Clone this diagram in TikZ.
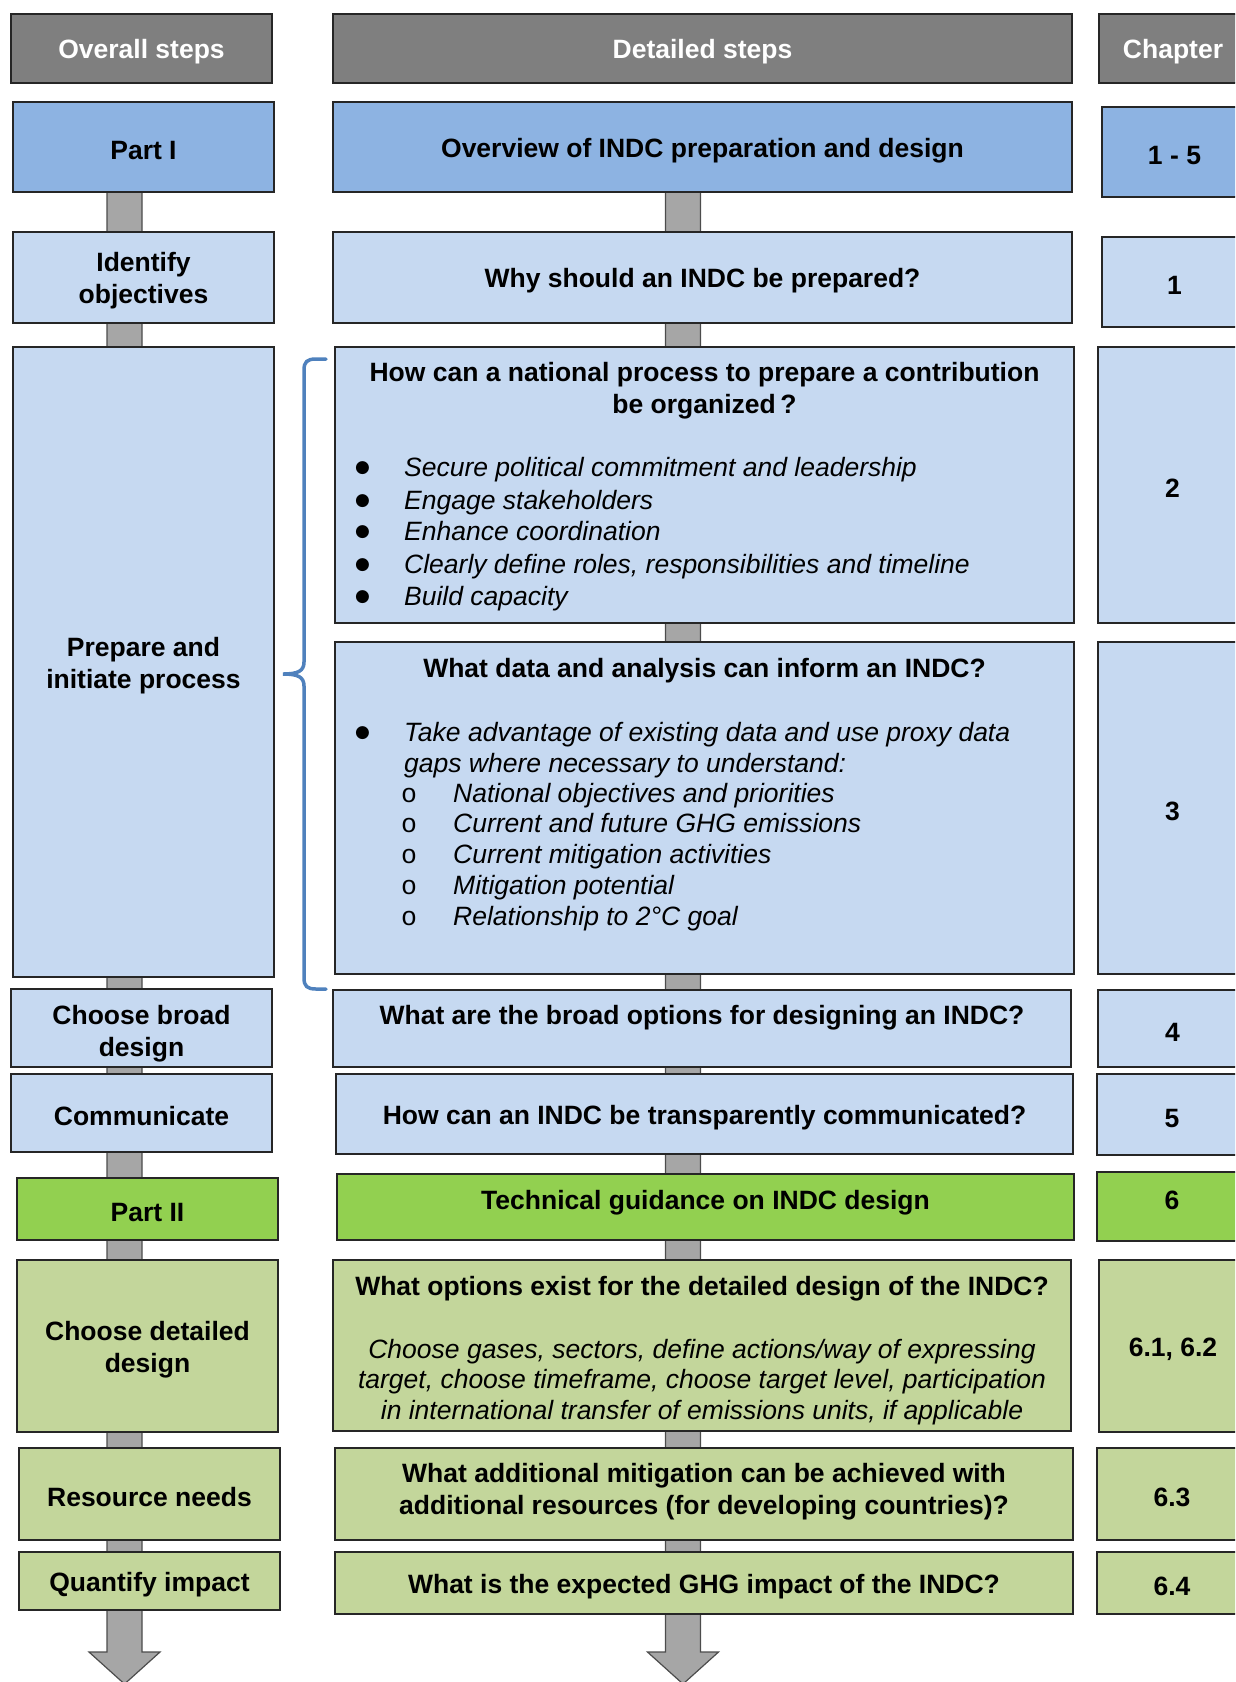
\documentclass[tikz,border=0pt]{standalone}
\usepackage{fontspec}
\setmainfont{Liberation Sans}
\setmonofont{Liberation Mono}
\newfontfamily\dotfont{DejaVu Sans}
\usepackage{tikz}
\usetikzlibrary{positioning,fit,backgrounds}
\definecolor{headgrey}{HTML}{7F7F7F}
\definecolor{partblue}{HTML}{8DB3E2}
\definecolor{stepblue}{HTML}{C6D9F1}
\definecolor{partgreen}{HTML}{92D050}
\definecolor{stepgreen}{HTML}{C3D69B}
\definecolor{bargrey}{HTML}{A6A6A6}
\definecolor{braceblue}{HTML}{4F81BD}
\newcommand{\cellsize}{\fontsize{26.5pt}{32pt}\selectfont}
\newcommand{\bulmark}{\makebox[49pt][l]{\dotfont\upshape\fontsize{17pt}{17pt}\selectfont\raisebox{4pt}{●}}}
\newcommand{\circmark}{\makebox[52pt][l]{\normalfont\ttfamily o}}
\tikzset{cell/.style={draw=black!85,line width=1.5pt,inner sep=0pt}}
\tikzset{head/.style={cell,fill=headgrey}}
\tikzset{partone/.style={cell,fill=partblue}}
\tikzset{stepone/.style={cell,fill=stepblue}}
\tikzset{parttwo/.style={cell,fill=partgreen}}
\tikzset{steptwo/.style={cell,fill=stepgreen}}
\tikzset{title/.style={inner sep=0pt,align=center,font=\cellsize\bfseries}}
\tikzset{mid/.style={title,yshift=-3.5pt}}
\tikzset{headtext/.style={mid,text=white}}
\tikzset{item/.style={inner sep=0pt,anchor=base west,font=\cellsize\itshape}}
\tikzstyle{bar}=[draw=black!70,fill=bargrey,line width=1.2pt]
\tikzstyle{brace}=[draw=braceblue,line width=3.5pt,line cap=round]
\begin{document}
\begin{tikzpicture}[x=1pt,y=-1pt]
    \useasboundingbox (0,0) rectangle (1235,1682);
    \clip (0,0) rectangle (1235,1682);
    % column heads
    \node[head,fit={(11,14) (272,83)}] (h1) {};
    \node[head,fit={(333,14) (1072,83)}] (h2) {};
    \node[head,fit={(1099,14) (1247,83)}] (h3) {};
        \node[headtext] (h1t) at (h1) {Overall steps};
        \node[headtext] (h2t) at (h2) {Detailed steps};
        \node[headtext] (h3t) at (h3) {Chapter};

    % part I
    \node[partone,fit={(13,102) (274,192)}] (p1) {};
    \node[partone,fit={(333,102) (1072,192)}] (d1) {};
    \node[partone,fit={(1102,107) (1247,197)}] (c1) {};
        \node[mid] (p1t) at (p1) {Part I};
        \node[mid] (d1t) at (d1) {Overview of INDC preparation and design};
        \node[mid] (c1t) at (c1) {1 - 5};

    \node[stepone,fit={(13,232) (274,323)}] (s1) {};
    \node[stepone,fit={(333,232) (1072,323)}] (d2) {};
    \node[stepone,fit={(1102,237) (1247,327)}] (c2) {};
        \node[mid] (s1t) at (s1) {Identify\\objectives};
        \node[mid] (d2t) at (d2) {Why should an INDC be prepared?};
        \node[mid] (c2t) at (c2) {1};

    \node[stepone,fit={(13,347) (274,977)}] (s2) {};
    \node[stepone,fit={(335,347) (1074,623)}] (d3) {};
    \node[stepone,fit={(1098,347) (1247,623)}] (c3) {};
        \node[mid] (s2t) at (s2) {Prepare and\\initiate process};
        \node[mid] (c3t) at (c3) {2};
        \node[title] (d3t) at (704.5,391) {How can a national process to prepare a contribution\\be organized\,?};
        \node[item] (i31) at (355,476) {\bulmark Secure political commitment and leadership};
        \node[item] (i32) at (355,509) {\bulmark Engage stakeholders};
        \node[item] (i33) at (355,540) {\bulmark Enhance coordination};
        \node[item] (i34) at (355,573) {\bulmark Clearly define roles, responsibilities and timeline};
        \node[item] (i35) at (355,605) {\bulmark Build capacity};

    \node[stepone,fit={(335,642) (1074,974)}] (d4) {};
    \node[stepone,fit={(1098,642) (1247,974)}] (c4) {};
        \node[mid] (c4t) at (c4) {3};
        \node[title] (d4t) at (704.5,671) {What data and analysis can inform an INDC?};
        \node[item] (i41) at (355,741) {\bulmark Take advantage of existing data and use proxy data};
        \node[item] (i42) at (404,772) {gaps where necessary to understand:};
        \node[item] (i43) at (401,802) {\circmark National objectives and priorities};
        \node[item] (i44) at (401,832) {\circmark Current and future GHG emissions};
        \node[item] (i45) at (401,863) {\circmark Current mitigation activities};
        \node[item] (i46) at (401,894) {\circmark Mitigation potential};
        \node[item] (i47) at (401,925) {\circmark Relationship to 2°C goal};

    \node[stepone,fit={(11,989) (272,1067)}] (s3) {};
    \node[stepone,fit={(333,990) (1071,1067)}] (d5) {};
    \node[stepone,fit={(1098,990) (1247,1067)}] (c5) {};
        \node[title] (s3t) at (141.5,1034) {Choose broad\\design};
        \node[title] (d5t) at (702,1018) {What are the broad options for designing an INDC?};
        \node[mid] (c5t) at (c5) {4};

    \node[stepone,fit={(11,1074) (272,1152)}] (s4) {};
    \node[stepone,fit={(336,1074) (1073,1154)}] (d6) {};
    \node[stepone,fit={(1097,1074) (1247,1155)}] (c6) {};
        \node[mid] (s4t) at (s4) {Communicate};
        \node[mid] (d6t) at (d6) {How can an INDC be transparently communicated?};
        \node[mid] (c6t) at (c6) {5};

    % part II
    \node[parttwo,fit={(17,1178) (278,1240)}] (p2) {};
    \node[parttwo,fit={(337,1174) (1074,1240)}] (d7) {};
    \node[parttwo,fit={(1097,1172) (1247,1241)}] (c7) {};
        \node[mid] (p2t) at (p2) {Part II};
        \node[title] (d7t) at (705.5,1203) {Technical guidance on INDC design};
        \node[title] (c7t) at (1172,1200) {6};

    \node[steptwo,fit={(17,1260) (278,1432)}] (s5) {};
    \node[steptwo,fit={(333,1260) (1071,1431)}] (d8) {};
    \node[steptwo,fit={(1099,1260) (1247,1432)}] (c8) {};
        \node[mid] (s5t) at (s5) {Choose detailed\\design};
        \node[mid] (c8t) at (c8) {6.1, 6.2};
        \node[title] (d8t) at (702,1289) {What options exist for the detailed design of the INDC?};
        \node[title,font=\fontsize{26.5pt}{30.6pt}\selectfont\itshape] (d8g) at (702,1382) {Choose gases, sectors, define actions/way of expressing\\target, choose timeframe, choose target level, participation\\in international transfer of emissions units, if applicable};

    \node[steptwo,fit={(19,1448) (280,1540)}] (s6) {};
    \node[steptwo,fit={(335,1448) (1073,1540)}] (d9) {};
    \node[steptwo,fit={(1097,1448) (1247,1540)}] (c9) {};
        \node[mid] (s6t) at (s6) {Resource needs};
        \node[title] (d9t) at (704,1492) {What additional mitigation can be achieved with\\additional resources (for developing countries)?};
        \node[mid] (c9t) at (c9) {6.3};

    \node[steptwo,fit={(19,1552) (280,1610)}] (s7) {};
    \node[steptwo,fit={(335,1552) (1073,1614)}] (d10) {};
    \node[steptwo,fit={(1097,1552) (1247,1614)}] (c10) {};
        \node[mid] (s7t) at (s7) {Quantify impact};
        \node[mid] (d10t) at (d10) {What is the expected GHG impact of the INDC?};
        \node[mid] (c10t) at (c10) {6.4};

    % grey flow bars
    \coordinate (e1) at (124.5,1652);
    \coordinate (t1) at (p1 -| e1);
    \coordinate (e2) at (683,1652);
    \coordinate (t2) at (d1 -| e2);
    \begin{scope}[on background layer]
        \draw[bar] ([xshift=-17.5pt]t1) -- ([xshift=-17.5pt]e1) -- ([xshift=-35.5pt]e1) -- ([yshift=-32pt]e1)
            -- ([xshift=35.5pt]e1) -- ([xshift=17.5pt]e1) -- ([xshift=17.5pt]t1) -- cycle;
        \draw[bar] ([xshift=-17.5pt]t2) -- ([xshift=-17.5pt]e2) -- ([xshift=-35.5pt]e2) -- ([yshift=-32pt]e2)
            -- ([xshift=35.5pt]e2) -- ([xshift=17.5pt]e2) -- ([xshift=17.5pt]t2) -- cycle;
    \end{scope}

    % brace
    \draw[brace] (326,359) -- (316,359) .. controls (307,359) and (304,362) .. (304,370) -- (304,662)
        .. controls (304,671) and (298,674) .. (283,674) .. controls (298,674) and (304,677) .. (304,686)
        -- (304,978) .. controls (304,986) and (307,989) .. (316,989) -- (326,989);
\end{tikzpicture}
\end{document}
